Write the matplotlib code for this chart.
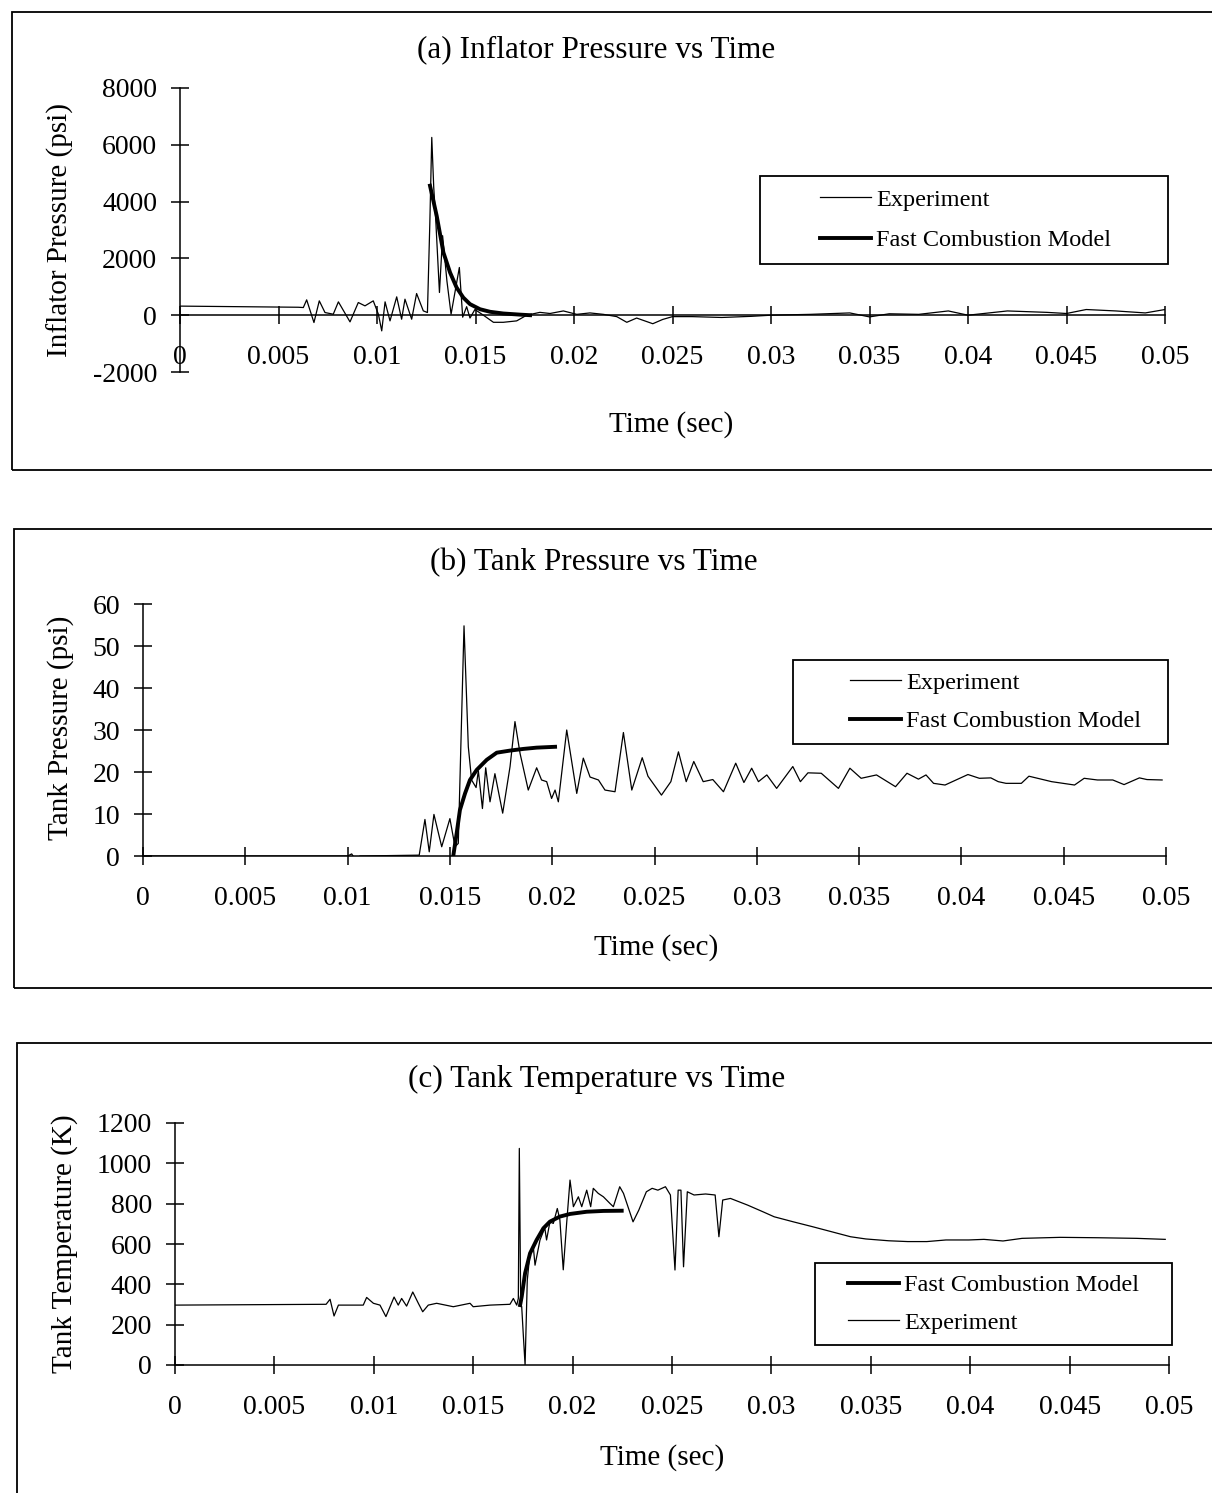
import matplotlib
matplotlib.use('Agg')
import matplotlib.pyplot as plt
from matplotlib.patches import Rectangle
from matplotlib.ticker import FuncFormatter, MultipleLocator

# ---------------------------------------------------------------------------
# Data (time in s)
# ---------------------------------------------------------------------------

# (a) inflator pressure, psi
t_a_exp = [0.0, 0.0015, 0.003, 0.0045, 0.006, 0.00626, 0.00643, 0.0068, 0.00707, 0.00736,
           0.00778, 0.00804, 0.00863, 0.00905, 0.00939, 0.00981, 0.01007, 0.01024, 0.01041, 0.01066,
           0.011, 0.01125, 0.01142, 0.01176, 0.01201, 0.01235, 0.01256, 0.01268, 0.01278, 0.01288,
           0.01298, 0.01317, 0.01333, 0.01355, 0.01376, 0.01418, 0.01435, 0.01455, 0.01472, 0.01497,
           0.0154, 0.01591, 0.01641, 0.01709, 0.0176, 0.01827, 0.01878, 0.01946, 0.02014, 0.02081,
           0.02149, 0.02217, 0.02268, 0.02318, 0.024, 0.0245, 0.025, 0.026, 0.0275, 0.029,
           0.030, 0.032, 0.034, 0.035, 0.036, 0.0375, 0.039, 0.040, 0.042, 0.044,
           0.045, 0.046, 0.0475, 0.049, 0.050]
p_a_exp = [320, 310, 300, 290, 280, 270, 540, -258, 505, 94,
           35, 470, -235, 446, 329, 505, 35, -552, 470, -200,
           646, -141, 564, -141, 763, 153, 94, 3200, 6260, 4500,
           3380, 800, 2800, 1200, 35, 1680, -70, 300, -100, 200,
           0, -250, -250, -200, 0, 100, 60, 150, 30, 80,
           30, -50, -250, -100, -300, -150, -50, -50, -80, -40,
           0, 30, 80, -60, 50, 30, 150, 0, 150, 100,
           60, 200, 150, 80, 200]
t_a_mod = [0.01269, 0.01303, 0.01337, 0.01371, 0.01404, 0.01438,
           0.01472, 0.01523, 0.01574, 0.01641, 0.01726, 0.01777]
p_a_mod = [4560, 3500, 2210, 1500, 975, 620, 390, 210, 120, 60, 20, 0]

# (b) tank pressure, psi
t_b_exp = [0.0, 0.0100, 0.0102, 0.0104, 0.0106, 0.0135, 0.01378, 0.01399, 0.01422, 0.0146,
           0.0150, 0.01525, 0.01541, 0.01569, 0.0159, 0.01606, 0.01628, 0.01639, 0.01659, 0.01675,
           0.01696, 0.0172, 0.01758, 0.01794, 0.01818, 0.01843, 0.01883, 0.01924, 0.01948, 0.01973,
           0.01997, 0.02014, 0.0203, 0.02071, 0.0212, 0.02152, 0.02185, 0.02226, 0.02258, 0.02307,
           0.02348, 0.02389, 0.0244, 0.02468, 0.02534, 0.0258, 0.02617, 0.02655, 0.02692, 0.02738,
           0.02785, 0.02837, 0.02897, 0.02937, 0.02975, 0.03008, 0.03049, 0.03097, 0.03176, 0.03213,
           0.0325, 0.03315, 0.03399, 0.03455, 0.0351, 0.03585, 0.03678, 0.03734, 0.0379, 0.03827,
           0.03864, 0.0392, 0.04032, 0.04088, 0.04144, 0.0418, 0.04218, 0.04293, 0.0433, 0.04441,
           0.04553, 0.046, 0.04665, 0.0474, 0.04795, 0.0487, 0.04907, 0.04981]
p_b_exp = [0, 0, 0.5, -1, 0, 0.2, 8.7, 1.0, 9.9, 2.2,
           8.9, 2.2, 3.0, 54.8, 26, 18.1, 16.3, 20.3, 11.3, 21,
           12.9, 19.6, 10.2, 21.3, 32, 24.4, 15.7, 21, 18.1, 17.7,
           13.7, 15.7, 12.9, 30, 14.9, 23.3, 18.8, 18.1, 15.7, 15.3,
           29.4, 15.7, 23.4, 19.0, 14.5, 17.7, 24.8, 17.7, 22.5, 17.7,
           18.2, 15.3, 22.1, 17.5, 20.9, 17.7, 19.3, 16.1, 21.3, 17.7,
           19.8, 19.7, 16.1, 20.9, 18.5, 19.3, 16.5, 19.7, 18.3, 19.3,
           17.3, 16.9, 19.4, 18.5, 18.6, 17.7, 17.3, 17.3, 19.0, 17.7,
           16.9, 18.5, 18.1, 18.1, 17.0, 18.6, 18.2, 18.1]
t_b_mod = [0.01517, 0.01533, 0.01549, 0.01574, 0.01598, 0.01631,
           0.0168, 0.01729, 0.01794, 0.0186, 0.01924, 0.02014]
p_b_mod = [0.2, 5.4, 10.95, 14.9, 18.1, 20.5, 22.9, 24.6, 25.1, 25.5, 25.8, 26.0]

# (c) tank temperature, K
t_c_exp = [0.0, 0.0076, 0.0078, 0.0080, 0.00822, 0.00947, 0.00964, 0.00998, 0.01031, 0.01061,
           0.01102, 0.01123, 0.0114, 0.01165, 0.01196, 0.01224, 0.01246, 0.01274, 0.01316, 0.0140,
           0.01484, 0.0150, 0.01585, 0.01685, 0.01702, 0.01719, 0.01727, 0.01732, 0.01739, 0.01744,
           0.01752, 0.01761, 0.01772, 0.01786, 0.01802, 0.01811, 0.01836, 0.0186, 0.01869, 0.01886,
           0.01903, 0.01923, 0.01936, 0.01953, 0.0197, 0.01987, 0.02004, 0.02029, 0.02046, 0.02071,
           0.02091, 0.02104, 0.02129, 0.02155, 0.02188, 0.02205, 0.02237, 0.02256, 0.02304, 0.02333,
           0.02371, 0.024, 0.02429, 0.02467, 0.02492, 0.02515, 0.02531, 0.02545, 0.02558, 0.02577,
           0.02611, 0.02669, 0.02717, 0.02736, 0.02755, 0.02794, 0.0288, 0.02957, 0.03014, 0.0311,
           0.03206, 0.03302, 0.03398, 0.03475, 0.0359, 0.03686, 0.03782, 0.03878, 0.03993, 0.04069,
           0.04165, 0.04261, 0.04453, 0.04645, 0.04837, 0.04981]
T_c_exp = [297, 301, 326, 243, 297, 297, 335, 306, 297, 240,
           337, 297, 330, 292, 362, 306, 264, 297, 306, 289,
           306, 289, 297, 301, 330, 297, 330, 1074, 300, 289,
           150, 0, 420, 560, 590, 495, 620, 680, 620, 710,
           702, 776, 720, 472, 702, 917, 785, 834, 785, 867,
           785, 876, 851, 834, 801, 785, 884, 851, 710, 768,
           859, 876, 867, 884, 843, 471, 867, 867, 487, 859,
           843, 848, 843, 636, 818, 826, 793, 760, 735, 710,
           686, 661, 636, 625, 616, 612, 612, 620, 620, 623,
           615, 628, 633, 631, 628, 623]
t_c_mod = [0.01736, 0.01744, 0.01761, 0.01786, 0.01819, 0.01853,
           0.01886, 0.01936, 0.01987, 0.02071, 0.02155, 0.02247]
T_c_mod = [297, 339, 455, 554, 620, 678, 711, 736, 749, 760, 764, 765]

EXP_LABEL = 'Experiment'
MOD_LABEL = 'Fast Combustion Model'

# ---------------------------------------------------------------------------
# Figure helpers (positions given in pixels of the 1212 x 1493 image)
# ---------------------------------------------------------------------------

W, H = 1212, 1493
plt.rcParams['font.family'] = 'Liberation Serif'
plt.rcParams['axes.unicode_minus'] = False

TICK_FS = 20
LABEL_FS = 21
TITLE_FS = 22.5
LEGEND_FS = 17.5

fig = plt.figure(figsize=(W / 100, H / 100), dpi=100)


def px_axes(left, top, right, bottom):
    return fig.add_axes([left / W, 1 - bottom / H, (right - left) / W, (bottom - top) / H])


def px_text(x, y, s, **kw):
    fig.text(x / W, 1 - y / H, s, **kw)


def px_box(x0, y0, x1, y1):
    fig.add_artist(Rectangle((x0 / W, 1 - y1 / H), (x1 - x0) / W, (y1 - y0) / H,
                             transform=fig.transFigure, fill=False, ec='black', lw=1.3))


def style_axes(ax, ylim, ystep):
    ax.set_xlim(0, 0.05)
    ax.set_ylim(*ylim)
    ax.patch.set_visible(False)
    ax.spines['top'].set_visible(False)
    ax.spines['right'].set_visible(False)
    ax.spines['bottom'].set_position(('data', 0))
    ax.spines['bottom'].set_linewidth(1.1)
    ax.spines['left'].set_linewidth(1.1)
    ax.xaxis.set_major_locator(MultipleLocator(0.005))
    ax.yaxis.set_major_locator(MultipleLocator(ystep))
    ax.xaxis.set_major_formatter(FuncFormatter(lambda v, _: f'{v:g}'))
    ax.tick_params(direction='inout', length=13, width=1.1, labelsize=TICK_FS)
    ax.tick_params(axis='x', pad=15)
    ax.tick_params(axis='y', pad=10)


def add_legend(ax, handles, labels, hx, cy, frame, spacing):
    ax.legend(handles, labels, loc='center left', bbox_to_anchor=(hx / W, 1 - cy / H),
              bbox_transform=fig.transFigure, frameon=False, fontsize=LEGEND_FS,
              handlelength=2.1, handletextpad=0.2, labelspacing=spacing,
              borderpad=0, borderaxespad=0)
    px_box(*frame)


# ---------------------------------------------------------------------------
# (a) Inflator pressure
# ---------------------------------------------------------------------------
ax_a = px_axes(180, 88, 1165, 372)
style_axes(ax_a, (-2000, 8000), 2000)
(l_exp,) = ax_a.plot(t_a_exp, p_a_exp, color='black', lw=0.9)
(l_mod,) = ax_a.plot(t_a_mod, p_a_mod, color='black', lw=2.8)
add_legend(ax_a, [l_exp, l_mod], [EXP_LABEL, MOD_LABEL], 820, 220, (760, 176, 1168, 264), 0.75)
px_box(12, 12, 1230, 470)
px_text(596, 50, '(a) Inflator Pressure vs Time', ha='center', va='center', fontsize=TITLE_FS)
px_text(60, 230, 'Inflator Pressure (psi)', ha='center', va='center', rotation=90, fontsize=LABEL_FS)
px_text(671, 425, 'Time (sec)', ha='center', va='center', fontsize=LABEL_FS)

# ---------------------------------------------------------------------------
# (b) Tank pressure
# ---------------------------------------------------------------------------
ax_b = px_axes(143, 604, 1166, 856)
style_axes(ax_b, (0, 60), 10)
(l_exp,) = ax_b.plot(t_b_exp, p_b_exp, color='black', lw=0.9)
(l_mod,) = ax_b.plot(t_b_mod, p_b_mod, color='black', lw=2.8)
add_legend(ax_b, [l_exp, l_mod], [EXP_LABEL, MOD_LABEL], 850, 702, (793, 660, 1168, 744), 0.68)
px_box(14, 529, 1230, 988)
px_text(594, 563, '(b) Tank Pressure vs Time', ha='center', va='center', fontsize=TITLE_FS)
px_text(61, 728, 'Tank Pressure (psi)', ha='center', va='center', rotation=90, fontsize=LABEL_FS)
px_text(656, 948, 'Time (sec)', ha='center', va='center', fontsize=LABEL_FS)

# ---------------------------------------------------------------------------
# (c) Tank temperature
# ---------------------------------------------------------------------------
ax_c = px_axes(175, 1123, 1169, 1365)
style_axes(ax_c, (0, 1200), 200)
(l_exp,) = ax_c.plot(t_c_exp, T_c_exp, color='black', lw=0.9)
(l_mod,) = ax_c.plot(t_c_mod, T_c_mod, color='black', lw=2.8)
add_legend(ax_c, [l_mod, l_exp], [MOD_LABEL, EXP_LABEL], 848, 1304, (815, 1263, 1172, 1345), 0.64)
px_box(17, 1043, 1230, 1520)
px_text(597, 1079, '(c) Tank Temperature vs Time', ha='center', va='center', fontsize=TITLE_FS)
px_text(65, 1244, 'Tank Temperature (K)', ha='center', va='center', rotation=90, fontsize=LABEL_FS)
px_text(662, 1458, 'Time (sec)', ha='center', va='center', fontsize=LABEL_FS)

fig.savefig('out.png', dpi=100)
